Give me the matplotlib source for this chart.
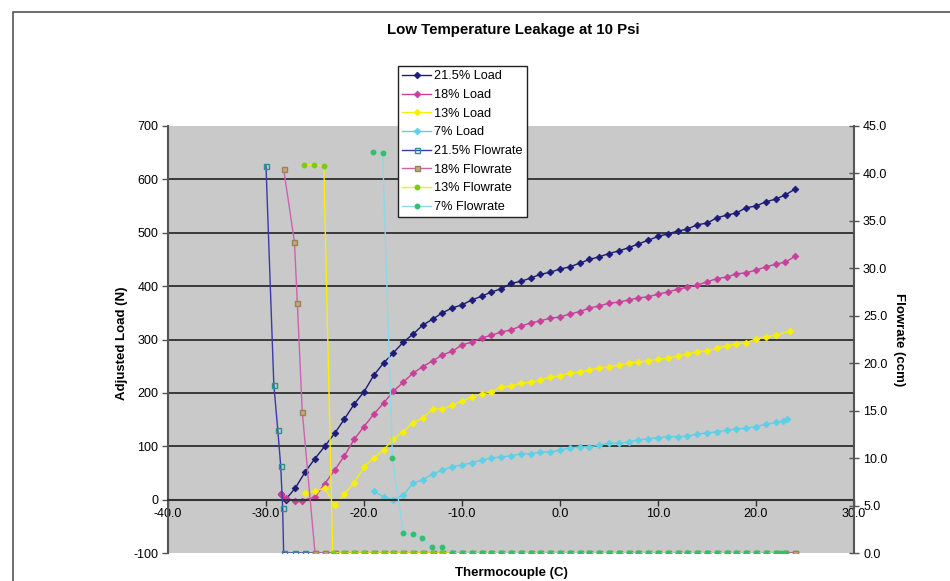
import numpy as np
import matplotlib
matplotlib.use("Agg")
import matplotlib.pyplot as plt
from matplotlib.patches import Rectangle

plt.rcParams['font.family'] = ['Liberation Sans', 'DejaVu Sans']
plt.rcParams['axes.unicode_minus'] = False

###############################################################################
# data

# 21.5% load
t_load_215 = [-28.5, -28, -27, -26, -25, -24, -23, -22, -21, -20, -19, -18, -17, -16,
              -15, -14, -13, -12, -11, -10, -9, -8, -7, -6, -5, -4, -3, -2, -1, 0,
              1, 2, 3, 4, 5, 6, 7, 8, 9, 10, 11, 12, 13, 14, 15, 16, 17, 18, 19, 20,
              21, 22, 23, 24]
load_215 = [10, 0, 22, 52, 77, 100, 124, 151, 179, 202, 233, 256, 275, 295,
            310, 327, 338, 350, 359, 365, 374, 381, 389, 395, 405, 409, 415, 422, 426, 432,
            436, 443, 450, 455, 461, 466, 472, 479, 486, 493, 498, 503, 507, 515, 518, 528,
            533, 537, 547, 550, 558, 563, 571, 582]

# 18% load
t_load_18 = [-28.5, -28, -27, -26.3, -25, -24, -23, -22, -21, -20, -19, -18, -17, -16,
             -15, -14, -13, -12, -11, -10, -9, -8, -7, -6, -5, -4, -3, -2, -1, 0,
             1, 2, 3, 4, 5, 6, 7, 8, 9, 10, 11, 12, 13, 14, 15, 16, 17, 18, 19, 20,
             21, 22, 23, 24]
load_18 = [10, 3, -3, -2, 5, 30, 55, 82, 113, 137, 160, 181, 203, 220,
           237, 249, 260, 271, 278, 290, 295, 303, 308, 314, 318, 325, 331, 335, 340, 342,
           348, 352, 359, 363, 368, 370, 374, 378, 380, 385, 389, 394, 398, 402, 408, 414,
           417, 423, 425, 430, 436, 441, 445, 456]

# 13% load
t_load_13 = [-26, -25, -24, -23, -22, -21, -20, -19, -18, -17, -16, -15, -14, -13,
             -12, -11, -10, -9, -8, -7, -6, -5, -4, -3, -2, -1, 0, 1, 2, 3, 4, 5,
             6, 7, 8, 9, 10, 11, 12, 13, 14, 15, 16, 17, 18, 19, 20, 21, 22, 23.5]
load_13 = [12, 16, 22, -11, 10, 32, 61, 78, 93, 114, 127, 144, 153, 170,
           170, 177, 185, 192, 198, 202, 211, 213, 218, 220, 224, 230, 232, 237, 239, 243, 247, 249,
           252, 256, 258, 260, 263, 265, 269, 273, 277, 279, 284, 288, 292, 294, 301, 305, 308, 316]

# 7% load
t_load_7 = [-19, -18, -17, -16, -15, -14, -13, -12, -11, -10, -9, -8, -7, -6, -5,
            -4, -3, -2, -1, 0, 1, 2, 3, 4, 5, 6, 7, 8, 9, 10, 11, 12, 13, 14, 15,
            16, 17, 18, 19, 20, 21, 22, 22.8, 23.2]
load_7 = [16, 5, 0, 8, 31, 37, 48, 55, 62, 65, 69, 74, 78, 80, 82,
          86, 86, 89, 89, 93, 97, 99, 99, 102, 106, 106, 108, 112, 114, 116, 118, 118, 119, 123, 125,
          127, 130, 132, 134, 137, 141, 145, 147, 151]

# flowrates (right axis)
t_flow_215 = [-30.0, -29.2, -28.8, -28.5, -28.3, -28.2, -27, -26, -25, -24, -23, -22, -21,
              -20, -19, -18, -17, -16, -15, -14, -13, -12, -11, -10, -9, -8, -7, -6, -5,
              -4, -3, -2, -1, 0, 1, 2, 3, 4, 5, 6, 7, 8, 9, 10, 11, 12, 13, 14, 15, 16,
              17, 18, 19, 20, 21, 22, 23, 24]
flow_215 = [40.8, 17.7, 13.0, 9.2, 4.7, 0, 0, 0, 0, 0, 0, 0, 0,
            0, 0, 0, 0, 0, 0, 0, 0, 0, 0, 0, 0, 0, 0, 0, 0,
            0, 0, 0, 0, 0, 0, 0, 0, 0, 0, 0, 0, 0, 0, 0, 0, 0, 0, 0, 0, 0,
            0, 0, 0, 0, 0, 0, 0, 0]

t_flow_18 = [-28.2, -27.1, -26.8, -26.3, -25, -24, -23, -22, -21, -20, -19, -18, -17,
             -16, -15, -14, -13, -12, -11, -10, -9, -8, -7, -6, -5, -4, -3, -2, -1, 0,
             1, 2, 3, 4, 5, 6, 7, 8, 9, 10, 11, 12, 13, 14, 15, 16, 17, 18, 19, 20,
             21, 22, 23, 24]
flow_18 = [40.5, 32.8, 26.3, 14.9, 0, 0, 0, 0, 0, 0, 0, 0, 0,
           0, 0, 0, 0, 0, 0, 0, 0, 0, 0, 0, 0, 0, 0, 0, 0, 0,
           0, 0, 0, 0, 0, 0, 0, 0, 0, 0, 0, 0, 0, 0, 0, 0, 0, 0, 0, 0,
           0, 0, 0, 0]

t_flow_13 = [-26.1, -25.1, -24.1, -23.2, -22, -21, -20, -19, -18, -17, -16, -15, -14,
             -13, -12, -11, -10, -9, -8, -7, -6, -5, -4, -3, -2, -1, 0, 1, 2, 3, 4,
             5, 6, 7, 8, 9, 10, 11, 12, 13, 14, 15, 16, 17, 18, 19, 20, 21, 22, 23]
flow_13 = [40.9, 40.9, 40.8, 0, 0, 0, 0, 0, 0, 0, 0, 0, 0,
           0, 0, 0, 0, 0, 0, 0, 0, 0, 0, 0, 0, 0, 0, 0, 0, 0, 0,
           0, 0, 0, 0, 0, 0, 0, 0, 0, 0, 0, 0, 0, 0, 0, 0, 0, 0, 0]

t_flow_7 = [-19.1, -18.1, -17.1, -16, -15, -14.1, -13.1, -12, -11, -10, -9, -8, -7, -6,
            -5, -4, -3, -2, -1, 0, 1, 2, 3, 4, 5, 6, 7, 8, 9, 10, 11, 12, 13, 14,
            15, 16, 17, 18, 19, 20, 21, 22, 22.5, 23]
flow_7 = [42.3, 42.2, 10.0, 2.1, 2.0, 1.6, 0.6, 0.6, 0, 0, 0, 0, 0, 0,
          0, 0, 0, 0, 0, 0, 0, 0, 0, 0, 0, 0, 0, 0, 0, 0, 0, 0, 0, 0,
          0, 0, 0, 0, 0, 0, 0, 0, 0, 0]

labels = ['21.5% Load', '18% Load', '13% Load', '7% Load',
          '21.5% Flowrate', '18% Flowrate', '13% Flowrate', '7% Flowrate']

###############################################################################
# figure

fig = plt.figure(figsize=(9.5, 5.81), dpi=100)
fig.patch.set_facecolor('white')

# outer chart frame (cut off at right and bottom)
fig.patches.append(Rectangle((13/950, -0.02), 1.0, 1 - 12/581 + 0.02,
                             transform=fig.transFigure, fill=False,
                             edgecolor='#555555', linewidth=1.2))

ax = fig.add_axes([168/950, 1 - 553/581, 686/950, 427/581])
ax.set_facecolor('#C9C9C9')
ax2 = ax.twinx()

ms_d = 3.4
ax.plot(t_load_215, load_215, color='#1C1C78', marker='D', ms=ms_d, mew=0.6, lw=1.0, label=labels[0])
ax.plot(t_load_18, load_18, color='#C8409A', marker='D', ms=ms_d, mew=0.6, lw=1.0, label=labels[1])
ax.plot(t_load_13, load_13, color='#F8F000', marker='D', ms=ms_d, mew=0.6, lw=1.0, label=labels[2])
ax.plot(t_load_7, load_7, color='#5CD0E6', marker='D', ms=ms_d, mew=0.6, lw=1.0, label=labels[3])

ax2.plot(t_flow_215, flow_215, color='#3A3AA8', marker='s', ms=3.6, lw=1.0,
         mfc='none', mec='#2E8F8F', mew=1.0, label=labels[4])
ax2.plot(t_flow_18, flow_18, color='#D060B0', marker='s', ms=3.6, lw=1.0,
         mfc='#C0A880', mec='#9A8455', mew=1.0, label=labels[5])
ax2.plot(t_flow_13, flow_13, color='#F8F000', marker='o', ms=3.2, lw=1.0,
         mfc='#7ACC10', mec='#7ACC10', label=labels[6])
ax2.plot(t_flow_7, flow_7, color='#8ED8EA', marker='o', ms=3.2, lw=1.0,
         mfc='#30C070', mec='#30C070', label=labels[7])

# axes limits / ticks
ax.set_xlim(-40, 30)
ax.set_ylim(-100, 700)
ax2.set_ylim(0, 45)
ax.set_xticks([-40, -30, -20, -10, 0, 10, 20, 30])
ax.set_xticklabels(['%.1f' % v for v in ax.get_xticks()])
ax.set_yticks(np.arange(-100, 701, 100))
ax2.set_yticks(np.arange(0, 46, 5))
ax2.set_yticklabels(['%.1f' % v for v in ax2.get_yticks()])

ax.spines['bottom'].set_position(('data', 0))
ax.spines['bottom'].set_color('#333333')
ax.spines['bottom'].set_linewidth(1.5)
ax.spines['left'].set_color('#555555')
ax.spines['left'].set_linewidth(1.5)
for s in ['top', 'right']:
    ax.spines[s].set_visible(False)
for s in ['top', 'bottom', 'left']:
    ax2.spines[s].set_visible(False)
ax2.spines['right'].set_color('#555555')
ax2.spines['right'].set_linewidth(1.5)

ax.tick_params(axis='x', direction='out', length=4, width=1, color='#333333',
               labelsize=9, pad=2)
ax.tick_params(axis='y', direction='out', length=4, width=1, color='#555555',
               labelsize=9, pad=3)
ax2.tick_params(axis='y', direction='inout', length=7, width=1, color='#555555',
                labelsize=9, pad=3)

ax.yaxis.grid(True, color='#3A3A3A', linewidth=1.4)
gl = ax.get_ygridlines()
gl[0].set_visible(False)
gl[1].set_visible(False)
gl[-1].set_visible(False)
ax.set_axisbelow(True)

# titles
fig.text(513/950, 1 - 30/581, 'Low Temperature Leakage at 10 Psi', ha='center', va='center',
         fontsize=10.8, fontweight='bold')
fig.text(122/950, 1 - 343/581, 'Adjusted Load (N)', ha='center', va='center',
         rotation=90, fontsize=9.5, fontweight='bold')
fig.text(899/950, 1 - 340/581, 'Flowrate (ccm)', ha='center', va='center',
         rotation=270, fontsize=9.5, fontweight='bold')
fig.text(511/950, 1 - 573/581, 'Thermocouple (C)', ha='center', va='center',
         fontsize=9.5, fontweight='bold')

# legend
h1, l1 = ax.get_legend_handles_labels()
h2, l2 = ax2.get_legend_handles_labels()
leg = ax2.legend(h1 + h2, l1 + l2, loc='upper left',
                 bbox_to_anchor=(398/950, 1 - 66/581), bbox_transform=fig.transFigure,
                 fontsize=9.2, frameon=True, fancybox=False, framealpha=1,
                 edgecolor='#222222', handlelength=2.2, handletextpad=0.25,
                 labelspacing=0.52, borderpad=0.35, borderaxespad=0)
leg.get_frame().set_linewidth(1.0)
leg.set_zorder(10)

fig.savefig('out.png', dpi=100)
